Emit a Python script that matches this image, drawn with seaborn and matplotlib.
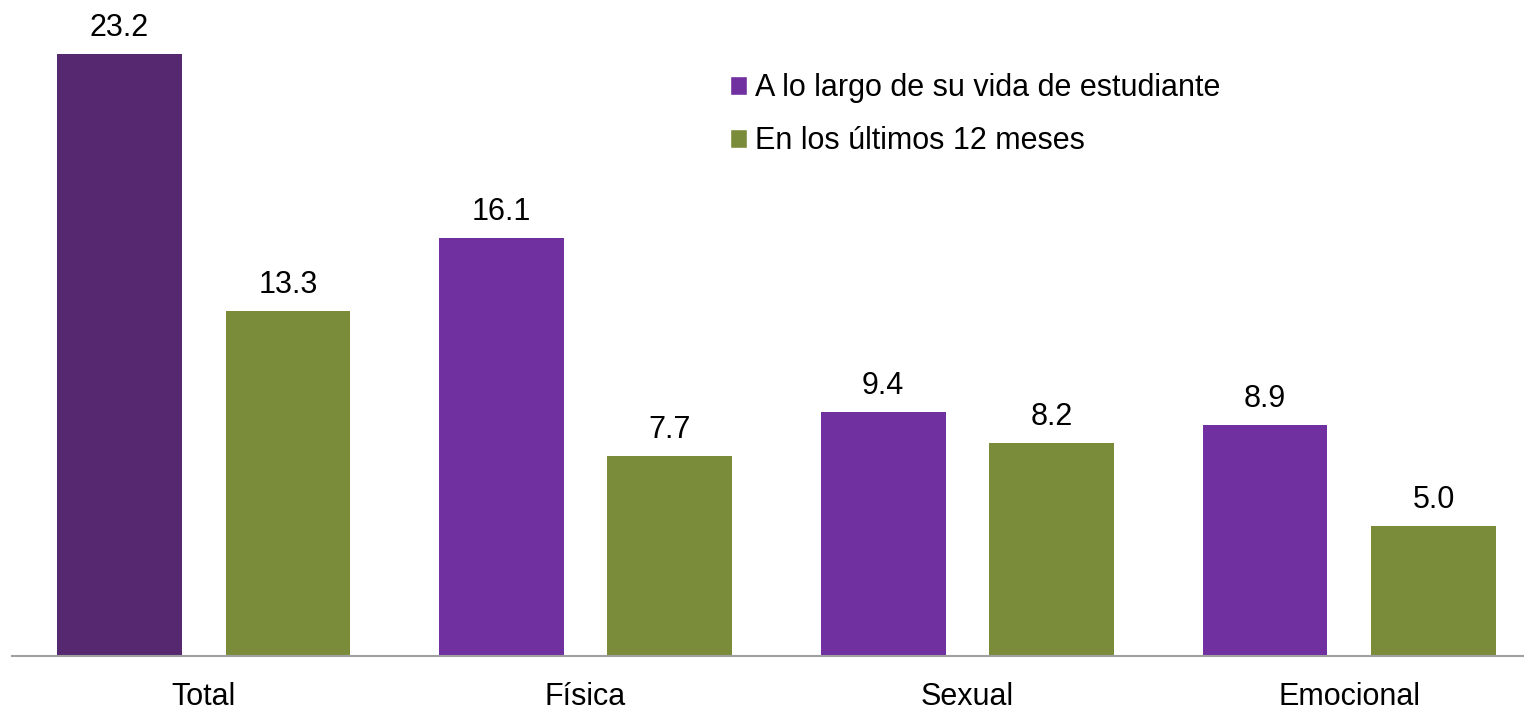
import numpy as np
import pandas as pd
import matplotlib
matplotlib.use("Agg")
import matplotlib.pyplot as plt
from matplotlib.patches import Patch
import seaborn as sns

categories = ["Total", "Física", "Sexual", "Emocional"]
series_names = ["A lo largo de su vida de estudiante", "En los últimos 12 meses"]
vida_estudiante = [23.2, 16.1, 9.4, 8.9]
ultimos_12 = [13.3, 7.7, 8.2, 5.0]

purple = "#7030A0"
purple_dark = "#55286F"
green = "#7A8C3A"

df = pd.DataFrame({
    "categoria": categories * 2,
    "serie": [series_names[0]] * 4 + [series_names[1]] * 4,
    "valor": vida_estudiante + ultimos_12,
})

sns.set_style("white")
plt.rcParams["font.family"] = ["Liberation Sans", "DejaVu Sans"]
plt.rcParams["text.color"] = "black"
plt.rcParams["xtick.color"] = "black"

fig = plt.figure(figsize=(15.24, 7.13), dpi=100)
ax = fig.add_axes([0.008, 0.08, 0.992, 0.92])

sns.barplot(data=df, x="categoria", y="valor", hue="serie", order=categories,
            hue_order=series_names, palette=[purple, green], width=0.884, gap=0.26,
            saturation=1, linewidth=0, legend=False, ax=ax)

# the Total bar of the first series is drawn darker
ax.containers[0][0].set_facecolor(purple_dark)

for cont in ax.containers:
    ax.bar_label(cont, fmt="%.1f", padding=8, fontsize=22, color="black")

ax.set_ylim(0, 25.28)
ax.set_xlim(-0.501, 3.457)
ax.set_yticks([])
ax.set_xlabel("")
ax.set_ylabel("")
ax.tick_params(axis="x", length=0, pad=19, labelsize=22, labelcolor="black")
for side in ["top", "right", "left"]:
    ax.spines[side].set_visible(False)
ax.spines["bottom"].set_color("#A0A0A0")
ax.spines["bottom"].set_linewidth(1.5)

handles = [Patch(facecolor=purple), Patch(facecolor=green)]
leg = ax.legend(handles, series_names, loc="upper left", bbox_to_anchor=(0.467, 0.907),
                frameon=False, fontsize=22, handlelength=0.55, handleheight=0.55,
                handletextpad=0.25, labelspacing=0.75, borderaxespad=0)
for t in leg.get_texts():
    t.set_color("black")

fig.savefig("out.png", dpi=100)
